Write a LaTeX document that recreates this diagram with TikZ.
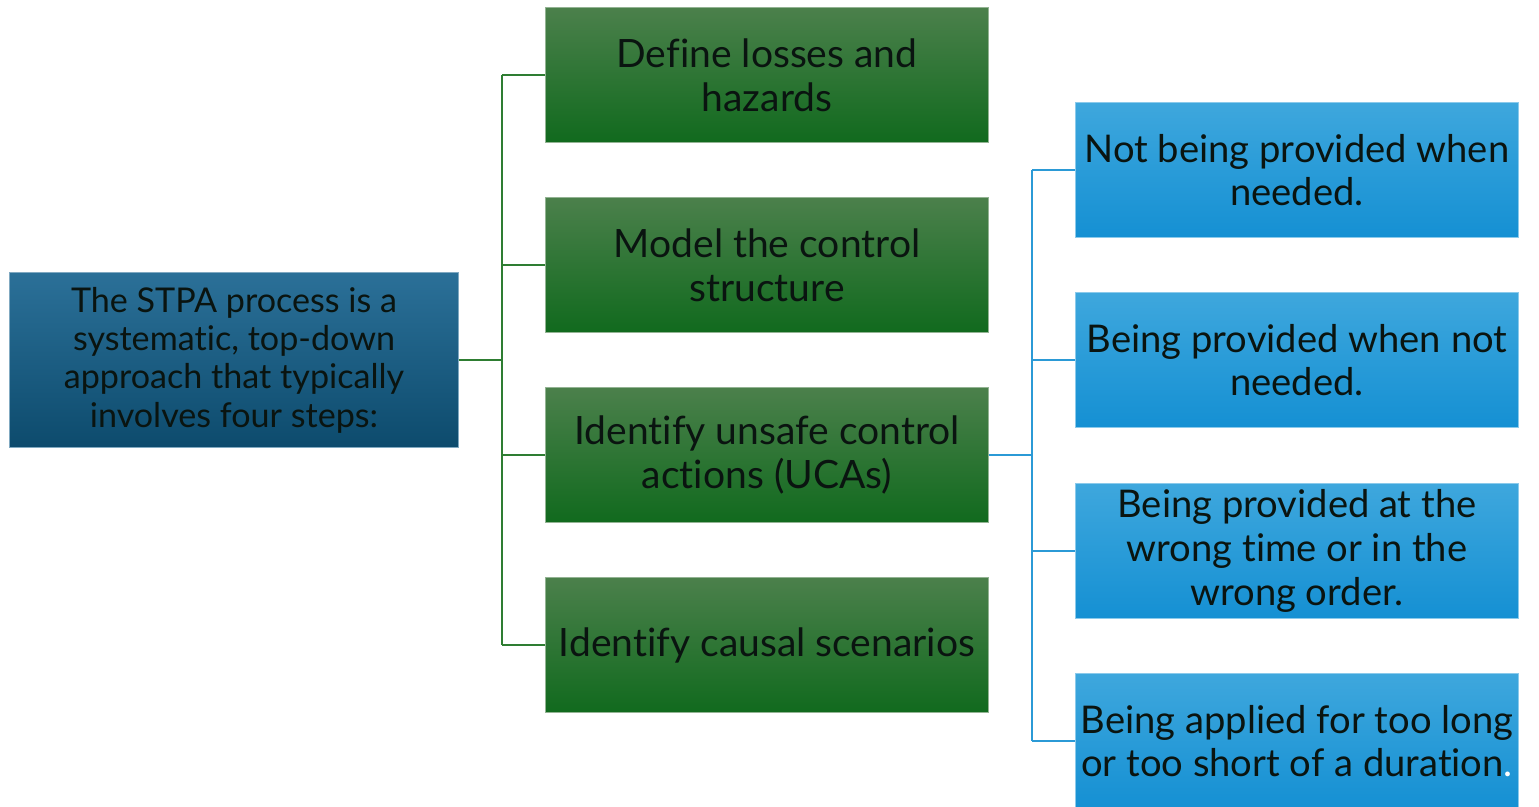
\documentclass[tikz,border=0pt]{standalone}
\usepackage{fontspec}
\setmainfont{Lato}[Ligatures=NoCommon]
\usetikzlibrary{positioning, calc}

\definecolor{roottop}{HTML}{2B7098}
\definecolor{rootbot}{HTML}{0D4B6D}
\definecolor{steptop}{HTML}{4B804B}
\definecolor{stepbot}{HTML}{116A1E}
\definecolor{ucatop}{HTML}{3EA7DD}
\definecolor{ucabot}{HTML}{1590D3}
\definecolor{stepline}{HTML}{2E7D32}
\definecolor{ucaline}{HTML}{2B9AD6}
\definecolor{boxtext}{HTML}{0A1410}

\begin{document}
\begin{tikzpicture}[x=0.01cm, y=-0.01cm,
    box/.style={minimum height=1.34cm, inner sep=0pt, align=center, text=boxtext,
      font=\fontsize{11.1}{12.6}\selectfont},
    rootbox/.style={box, minimum width=4.48cm, minimum height=1.74cm,
      top color=roottop, bottom color=rootbot, draw=roottop!60!white, line width=0.3pt,
      font=\fontsize{9.7}{10.9}\selectfont},
    stepbox/.style={box, minimum width=4.42cm, top color=steptop, bottom color=stepbot,
      draw=steptop!60!white, line width=0.3pt},
    ucabox/.style={box, minimum width=4.42cm, top color=ucatop, bottom color=ucabot,
      draw=ucatop!60!white, line width=0.3pt, font=\fontsize{10.85}{12.4}\selectfont},
    greenwire/.style={draw=stepline, line width=0.6pt},
    bluewire/.style={draw=ucaline, line width=0.6pt}]
    \useasboundingbox (0,0) rectangle (1539,807);

    % Root
    \node[rootbox] (root) at (234,360) {The STPA process is a\\systematic, top-down\\approach that typically\\involves four steps:};

    % Steps
    \node[stepbox] (losses) at (767,75) {Define losses and\\hazards};
    \node[stepbox] (control) at (767,265) {Model the control\\structure};
    \node[stepbox] (ucas) at (767,455) {Identify unsafe control\\actions (UCAs)};
    \node[stepbox] (causal) at (767,645) {Identify causal scenarios};

    % UCA types
    \node[ucabox] (notprov) at (1297,170) {Not being provided when\\needed.};
    \node[ucabox] (prov) at (1297,360) {Being provided when not\\needed.};
    \node[ucabox] (wrongtime) at (1297,551) {Being provided at the\\wrong time or in the\\wrong order.};
    \node[ucabox] (duration) at (1297,741) {Being applied for too long\\or too short of a duration\textcolor{white}{.}};

    % Green connectors
    \coordinate (gbus) at (502,360);
    \draw[greenwire] (root.east) -- (gbus);
    \draw[greenwire] (gbus |- losses.west) -- (gbus |- causal.west);
    \foreach \s in {losses, control, ucas, causal}
        \draw[greenwire] (gbus |- \s.west) -- (\s.west);

    % Blue connectors
    \coordinate (bbus) at (1032,455);
    \draw[bluewire] (ucas.east) -- (bbus);
    \draw[bluewire] (bbus |- notprov.west) -- (bbus |- duration.west);
    \foreach \u in {notprov, prov, wrongtime, duration}
        \draw[bluewire] (bbus |- \u.west) -- (\u.west);
\end{tikzpicture}
\end{document}
